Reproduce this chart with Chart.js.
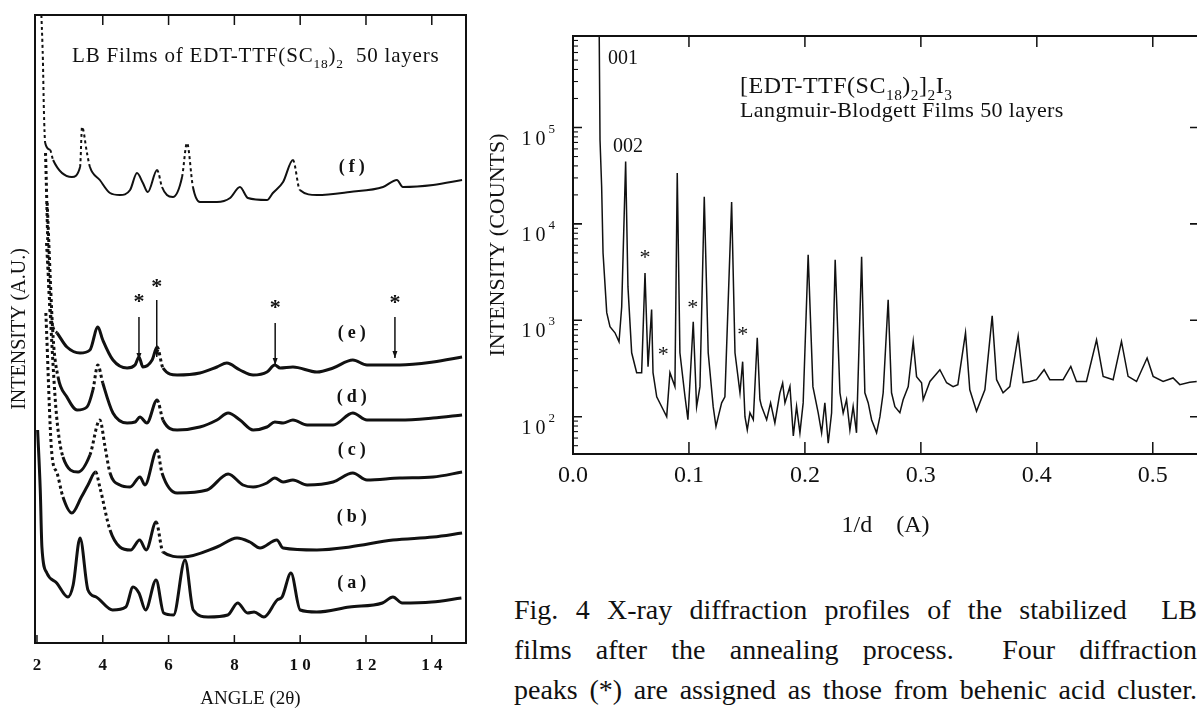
<!DOCTYPE html>
<html>
<head>
<meta charset="utf-8">
<script src="https://cdn.jsdelivr.net/npm/chart.js@4.4.1/dist/chart.umd.min.js"></script>
<style>
  html, body { margin: 0; padding: 0; background: #fff; }
  body { width: 1197px; height: 710px; position: relative; overflow: hidden; }
  #left { position: absolute; left: 0; top: 0; }
  #right { position: absolute; left: 480px; top: 0; }
  .caption { position: absolute; left: 514px; top: 590px; width: 683px;
    font-family: 'Liberation Serif', serif; font-size: 28px; line-height: 40px; color: #111; }
  .caption div { text-align: justify; text-align-last: justify; white-space: normal; }
</style>
</head>
<body>
<canvas id="left" width="480" height="710"></canvas>
<canvas id="right" width="720" height="560"></canvas>
<div class="caption">
  <div>Fig. 4 X-ray diffraction profiles of the stabilized &nbsp;LB</div>
  <div>films after the annealing process. &nbsp;Four diffraction</div>
  <div>peaks (*) are assigned as those from behenic acid cluster.</div>
</div>
<script>
// ---- left panel: XRD profiles, intensity in arbitrary units (stacked curves a..f)
const angleTicks = [2, 4, 6, 8, 10, 12, 14];

const angleA = [2.02,2.10,2.15,2.30,2.60,2.94,3.10,3.31,3.55,3.80,4.30,4.70,4.92,5.10,5.30,5.62,5.85,6.15,6.50,6.75,7.20,7.80,8.10,8.40,8.60,8.90,9.30,9.45,9.72,10.00,10.50,11.50,12.50,12.82,13.10,14.00,14.90];
const intensityA = [213,153,96,70,60,46,58,105,53,46,33,36,56,50,33,63,30,28,83,33,26,28,40,30,31,26,43,46,70,33,31,36,40,46,40,41,45];

const angleB = [2.27,2.45,2.61,2.79,3.06,3.35,3.55,3.78,3.91,4.22,4.52,4.85,5.12,5.32,5.62,5.83,6.44,7.47,8.08,8.47,8.78,9.29,9.48,10.51,11.51,12.82,14.04,14.92];
const intensityB = [330,190,170,146,130,146,158,171,156,113,96,93,103,93,121,91,86,96,105,101,95,103,95,93,96,103,106,110];

const angleC = [2.29,2.55,2.64,2.79,3.25,3.61,3.91,4.07,4.22,4.52,4.83,5.13,5.28,5.65,5.80,6.26,7.17,7.81,8.26,8.57,8.99,9.23,9.48,9.78,10.21,11.00,11.60,12.03,13.03,14.04,14.92];
const intensityC = [400,246,213,186,171,188,223,196,170,158,156,166,158,193,170,150,153,169,158,156,160,165,161,163,158,161,170,163,165,166,171];

const angleD = [2.31,2.49,2.64,2.91,3.22,3.52,3.70,3.85,4.00,4.31,4.74,4.98,5.13,5.34,5.65,5.83,6.26,6.95,7.47,7.81,8.17,8.57,8.99,9.23,9.48,9.78,10.21,11.00,11.60,12.03,13.03,14.04,14.92];
const intensityD = [440,306,266,246,233,236,253,278,260,230,220,221,226,220,243,223,213,216,223,230,223,213,216,221,220,223,218,218,230,223,223,225,228];

const angleE = [2.26,2.40,2.61,2.91,3.31,3.61,3.85,4.00,4.31,4.74,4.98,5.10,5.22,5.50,5.65,5.83,6.26,6.95,7.47,7.77,8.17,8.57,8.99,9.23,9.39,9.78,10.51,11.00,11.60,12.03,13.03,14.04,14.92];
const intensityE = [490,333,310,296,290,293,316,303,283,275,278,286,276,283,296,275,268,270,276,280,273,268,271,278,275,276,271,275,283,278,278,281,286];

const angleF = [2.12,2.18,2.21,2.25,2.40,2.49,3.06,3.31,3.37,3.52,3.61,3.91,4.22,4.52,4.83,5.04,5.22,5.37,5.65,5.80,5.95,6.13,6.41,6.56,6.74,6.95,7.47,7.87,8.17,8.41,8.99,9.17,9.48,9.78,9.99,10.51,11.51,12.52,12.94,13.12,14.04,14.92];
const intensityF = [640,583,533,500,493,483,466,476,516,490,476,463,450,448,453,470,460,451,473,456,448,446,466,500,456,441,441,445,456,445,443,450,461,483,453,448,451,456,463,456,458,463];

// behenic acid peaks marked with * in curve (e)
const starAngles = [5.10, 5.64, 9.24, 12.88];

// ---- right panel: log intensity vs 1/d
const invDTicks = [0, 0.1, 0.2, 0.3, 0.4, 0.5];
const decadeTicks = [100, 1000, 10000, 100000];

const invD = [0.0224,0.0233,0.0247,0.0259,0.0291,0.0319,0.0362,0.0397,0.0420,0.0454,
  0.0474,0.0506,0.0549,0.0592,0.0621,0.0647,0.0678,0.0690,0.0722,0.0778,
  0.0808,0.0836,0.0879,0.0899,0.0922,0.0966,0.0991,0.1037,0.1066,0.1095,
  0.1132,0.1166,0.1209,0.1233,0.1253,0.1282,0.1310,0.1368,0.1397,0.1440,
  0.1463,0.1483,0.1503,0.1526,0.1555,0.1589,0.1612,0.1626,0.1670,0.1704,
  0.1741,0.1784,0.1808,0.1828,0.1871,0.1900,0.1928,0.1957,0.1985,0.2028,
  0.2069,0.2115,0.2144,0.2172,0.2201,0.2230,0.2261,0.2302,0.2330,0.2359,
  0.2388,0.2416,0.2445,0.2489,0.2517,0.2546,0.2575,0.2618,0.2647,0.2675,
  0.2718,0.2747,0.2776,0.2819,0.2847,0.2891,0.2934,0.2963,0.3006,0.3020,
  0.3078,0.3164,0.3222,0.3278,0.3319,0.3385,0.3422,0.3480,0.3552,0.3615,
  0.3653,0.3709,0.3767,0.3839,0.3882,0.3940,0.3997,0.4063,0.4112,0.4227,
  0.4293,0.4342,0.4428,0.4515,0.4572,0.4658,0.4730,0.4787,0.4860,0.4951,
  0.5003,0.5089,0.5175,0.5233,0.5319,0.5379];
const counts = [2000000,74100,24400,5010,1200,857,742,598,1380,44300,
  2220,460,286,286,3100,330,1290,286,161,118,
  100,286,205,33700,460,161,93,965,127,205,
  19100,460,127,79,100,139,161,16900,460,177,
  372,100,73,110,93,659,150,128,93,139,
  86,176,223,139,206,63,128,68,139,4780,
  205,109,68,139,53,109,4240,177,109,150,
  73,128,68,4550,177,139,93,68,100,177,
  1630,177,127,110,150,205,603,260,225,150,
  232,307,225,205,215,741,190,114,190,1110,
  242,177,205,690,225,232,242,307,242,242,
  332,232,232,628,262,242,603,262,232,406,
  262,232,252,215,227,232];

// peaks marked * (behenic acid)
const starInvD = [0.0621, 0.0779, 0.1032, 0.1463];
const starCounts = [5000, 494, 1517, 794];

const INK = '#111';
const SERIF = "'Liberation Serif', 'DejaVu Serif', serif";

function pts(xs, ys) {
  return xs.map((x, i) => ({ x: x, y: ys[i] }));
}

// steep parts of the scanned traces came out dotted
const steepDash = c => {
  const dx = Math.abs(c.p1.x - c.p0.x);
  const dy = Math.abs(c.p1.y - c.p0.y);
  return dy > 3 * dx ? [3, 3] : undefined;
};

// draws text with sub / superscript pieces, y is the baseline
function drawRuns(ctx, x, y, runs, size, spacing) {
  runs.forEach(r => {
    const kind = r[1];
    const s = kind ? size * 0.64 : size;
    ctx.font = s + 'px ' + SERIF;
    ctx.letterSpacing = (spacing || 0) + 'px';
    const dy = kind === 'sub' ? size * 0.28 : kind === 'sup' ? -size * 0.42 : 0;
    ctx.fillText(r[0], x, y + dy);
    x += ctx.measureText(r[0]).width;
  });
  ctx.letterSpacing = '0px';
  return x;
}

const leftFrame = {
  id: 'leftFrame',
  afterDraw(chart) {
    const ctx = chart.ctx, a = chart.chartArea, x = chart.scales.x, y = chart.scales.y;
    ctx.save();
    ctx.strokeStyle = INK;
    ctx.fillStyle = INK;
    ctx.lineWidth = 2;
    ctx.strokeRect(a.left, a.top, a.right - a.left, a.bottom - a.top);
    ctx.lineWidth = 1.5;
    angleTicks.forEach(v => {
      const px = x.getPixelForValue(v);
      ctx.beginPath();
      ctx.moveTo(px, a.bottom); ctx.lineTo(px, a.bottom - 8);
      if (v > 2) { ctx.moveTo(px, a.top); ctx.lineTo(px, a.top + 10); }
      ctx.stroke();
    });

    // title
    ctx.textAlign = 'left';
    ctx.textBaseline = 'alphabetic';
    drawRuns(ctx, 72, 62, [['LB Films of EDT-TTF(SC'], ['18', 'sub'], [')'], ['2', 'sub'], ['  50 layers']], 21, 0.8);

    // curve labels
    ctx.font = 'bold 18px ' + SERIF;
    ctx.letterSpacing = '4px';
    ctx.textAlign = 'center';
    ctx.textBaseline = 'middle';
    const labels = [['(f)', 476], ['(e)', 310], ['(d)', 246], ['(c)', 193], ['(b)', 126], ['(a)', 60]];
    labels.forEach(l => ctx.fillText(l[0], x.getPixelForValue(11.57) + 2, y.getPixelForValue(l[1])));
    ctx.letterSpacing = '0px';

    // asterisks with arrows down to curve (e)
    const starTop = [346, 361, 340, 345];
    const lineFrom = [326, 343, 320, 326];
    const lineTo = [283, 286, 278, 285];
    ctx.font = 'bold 22px ' + SERIF;
    starAngles.forEach((v, i) => {
      const px = x.getPixelForValue(v);
      ctx.fillText('*', px, y.getPixelForValue(starTop[i]) + 5);
      const y0 = y.getPixelForValue(lineFrom[i]), y1 = y.getPixelForValue(lineTo[i]);
      ctx.lineWidth = 1.5;
      ctx.beginPath(); ctx.moveTo(px, y0); ctx.lineTo(px, y1); ctx.stroke();
      ctx.beginPath(); ctx.moveTo(px - 2.5, y1 - 7); ctx.lineTo(px + 2.5, y1 - 7); ctx.lineTo(px, y1); ctx.closePath(); ctx.fill();
    });
    ctx.restore();
  }
};

const leftSets = [
  [angleA, intensityA], [angleB, intensityB], [angleC, intensityC],
  [angleD, intensityD], [angleE, intensityE], [angleF, intensityF]
].map((s, i) => ({
  data: pts(s[0], s[1]),
  borderColor: INK,
  borderWidth: i === 5 ? 2 : 3,
  pointRadius: 0,
  cubicInterpolationMode: 'monotone',
  segment: i === 0 ? {} : { borderDash: steepDash }
}));

new Chart(document.getElementById('left'), {
  type: 'line',
  data: { datasets: leftSets },
  options: {
    responsive: false,
    animation: false,
    layout: { padding: { top: 15, right: 14, left: 0, bottom: 0 } },
    plugins: { legend: { display: false }, tooltip: { enabled: false } },
    scales: {
      x: {
        type: 'linear', min: 1.94, max: 15.04,
        grid: { display: false, drawTicks: false }, border: { display: false },
        afterBuildTicks: s => { s.ticks = angleTicks.map(v => ({ value: v })); },
        afterFit: s => { s.height = 67; },
        ticks: { padding: 12, color: INK, maxRotation: 0,
          font: { family: SERIF, size: 17, weight: 'bold' },
          callback: v => String(v).split('').join(' ') },
        title: { display: true, text: 'ANGLE (2θ)', color: INK, padding: { top: 0, bottom: 0 },
          font: { family: SERIF, size: 19 } }
      },
      y: {
        type: 'linear', min: 0, max: 628,
        grid: { display: false, drawTicks: false }, border: { display: false },
        ticks: { display: false },
        afterFit: s => { s.width = 35; },
        title: { display: true, text: 'INTENSITY (A.U.)', color: INK, padding: { top: 8, bottom: 0 },
          font: { family: SERIF, size: 20 } }
      }
    }
  },
  plugins: [leftFrame]
});

const rightFrame = {
  id: 'rightFrame',
  afterDraw(chart) {
    const ctx = chart.ctx, a = chart.chartArea, x = chart.scales.x, y = chart.scales.y;
    ctx.save();
    ctx.strokeStyle = INK;
    ctx.fillStyle = INK;
    ctx.lineWidth = 2;
    ctx.strokeRect(a.left, a.top, a.right - a.left, a.bottom - a.top);
    ctx.lineWidth = 1.5;
    invDTicks.forEach(v => {
      if (v === 0) return;
      const px = x.getPixelForValue(v);
      ctx.beginPath();
      ctx.moveTo(px, a.bottom); ctx.lineTo(px, a.bottom - 12);
      ctx.moveTo(px, a.top); ctx.lineTo(px, a.top + 11);
      ctx.stroke();
    });
    for (let e = 1; e <= 5; e++) {
      for (let m = 1; m <= 9; m++) {
        const v = m * Math.pow(10, e);
        if (v < y.min || v > y.max) continue;
        const py = y.getPixelForValue(v);
        ctx.lineWidth = m === 1 ? 1.6 : 1.1;
        ctx.beginPath();
        ctx.moveTo(a.left, py); ctx.lineTo(a.left + (m === 1 ? 9 : 5), py);
        if (m === 1) { ctx.moveTo(a.right, py); ctx.lineTo(a.right - 8, py); }
        ctx.stroke();
      }
    }

    // decade labels 10^n
    ctx.textAlign = 'left';
    ctx.textBaseline = 'alphabetic';
    decadeTicks.forEach(v => {
      const py = y.getPixelForValue(v);
      const exp = String(Math.round(Math.log10(v)));
      ctx.font = '20px ' + SERIF;
      ctx.letterSpacing = '4px';
      const w1 = ctx.measureText('10').width;
      ctx.font = '13px ' + SERIF;
      ctx.letterSpacing = '0px';
      const w2 = ctx.measureText(exp).width;
      const x0 = a.left - 17 - w1 - w2;
      ctx.font = '20px ' + SERIF;
      ctx.letterSpacing = '4px';
      ctx.fillText('10', x0, py + 17);
      ctx.letterSpacing = '0px';
      ctx.font = '13px ' + SERIF;
      ctx.fillText(exp, x0 + w1 - 1, py + 5);
    });

    // peak indices and title
    ctx.font = '20px ' + SERIF;
    ctx.fillText('001', a.left + 35, 64);
    ctx.fillText('002', a.left + 40, 152);
    drawRuns(ctx, a.left + 167, 93, [['[EDT-TTF(SC'], ['18', 'sub'], [')'], ['2', 'sub'], [']'], ['2', 'sub'], ['I'], ['3', 'sub']], 24, 0.5);
    drawRuns(ctx, a.left + 167, 117, [['Langmuir-Blodgett Films 50 layers']], 22, 0.4);

    // asterisks
    ctx.font = '22px ' + SERIF;
    ctx.textAlign = 'center';
    ctx.textBaseline = 'middle';
    starInvD.forEach((v, i) => {
      ctx.fillText('*', x.getPixelForValue(v), y.getPixelForValue(starCounts[i]) + 5);
    });
    ctx.restore();
  }
};

new Chart(document.getElementById('right'), {
  type: 'line',
  data: {
    datasets: [{
      data: pts(invD, counts),
      borderColor: INK,
      borderWidth: 1.5,
      pointRadius: 0,
      tension: 0
    }]
  },
  options: {
    responsive: false,
    animation: false,
    layout: { padding: { top: 36, right: 2, left: 0, bottom: 0 } },
    plugins: { legend: { display: false }, tooltip: { enabled: false } },
    scales: {
      x: {
        type: 'linear', min: 0, max: 0.539,
        grid: { display: false, drawTicks: false }, border: { display: false },
        afterBuildTicks: s => { s.ticks = invDTicks.map(v => ({ value: v })); },
        afterFit: s => { s.height = 106; },
        ticks: { padding: 7, color: INK, maxRotation: 0,
          font: { family: SERIF, size: 24 },
          callback: v => v.toFixed(1) },
        title: { display: true, text: '1/d    (A)', color: INK, padding: { top: 0, bottom: 20 },
          font: { family: SERIF, size: 24 } }
      },
      y: {
        type: 'logarithmic', min: 41, max: 890000,
        grid: { display: false, drawTicks: false }, border: { display: false },
        ticks: { display: false },
        afterFit: s => { s.width = 93; },
        title: { display: true, text: 'INTENSITY (COUNTS)', color: INK, padding: { top: 5, bottom: 0 },
          font: { family: SERIF, size: 22 } }
      }
    }
  },
  plugins: [rightFrame]
});
</script>
</body>
</html>
